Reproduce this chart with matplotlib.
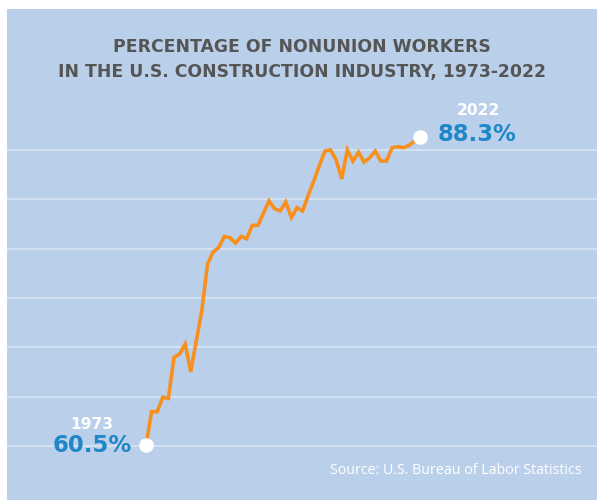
import matplotlib

matplotlib.use("Agg")
import matplotlib.pyplot as plt

# nonunion share of construction workers
years = list(range(1973, 2023))
nonunion_pct = [
    60.5, 63.5, 63.5, 64.8, 64.7, 68.4, 68.7, 69.6, 67.1, 69.9,
    72.7, 76.8, 77.9, 78.3, 79.3, 79.2, 78.7, 79.3, 79.1, 80.3,
    80.3, 81.4, 82.5, 81.8, 81.6, 82.4, 81.0, 81.9, 81.6, 83.0,
    84.3, 85.7, 87.0, 87.1, 86.2, 84.5, 87.1, 86.1, 86.9, 86.0,
    86.4, 87.0, 86.1, 86.1, 87.3, 87.4, 87.3, 87.5, 87.9, 88.3,
]
start_label = ("1973", "60.5%")
end_label = ("2022", "88.3%")
title_lines = [
    "PERCENTAGE OF NONUNION WORKERS",
    "IN THE U.S. CONSTRUCTION INDUSTRY, 1973-2022",
]
source_text = "Source: U.S. Bureau of Labor Statistics"

PANEL = "#bad0ea"
GRID = "#d5e2f2"
ORANGE = "#f7901e"
BLUE = "#1f86c8"
TITLE_GRAY = "#555555"
TEXT_FONT = "Open Sans"
NUM_FONT = "DejaVu Sans"


def main():
    fig = plt.figure(figsize=(5.97, 5.0), dpi=100)
    fig.patch.set_facecolor("white")
    ax = fig.add_axes([7 / 597, 0, 590 / 597, 491 / 500])
    ax.set_facecolor(PANEL)

    ax.set_xlim(1948.14, 2053.65)
    ax.set_ylim(55.54, 99.81)
    grid_vals = [60.41 + k * 4.448 for k in range(7)]
    ax.set_yticks(grid_vals)
    ax.set_xticks([])
    ax.grid(axis="y", color=GRID, linewidth=1.3)
    ax.set_axisbelow(True)
    ax.tick_params(left=False, labelleft=False)
    for s in ax.spines.values():
        s.set_visible(False)

    ax.plot(years, nonunion_pct, color=ORANGE, linewidth=2.6, solid_joinstyle="miter", zorder=3)
    ax.plot([years[0], years[-1]], [nonunion_pct[0], nonunion_pct[-1]], "o",
            color="white", markersize=10.5, markeredgewidth=0, zorder=4)

    # endpoint labels
    ax.annotate(start_label[1], (years[0], nonunion_pct[0]), xytext=(-10.5, -0.5),
                textcoords="offset points", ha="right", va="center",
                color=BLUE, fontsize=16.4, fontweight="bold", family=NUM_FONT)
    ax.annotate(start_label[0], (years[0], nonunion_pct[0]), xytext=(-39, 15),
                textcoords="offset points", ha="center", va="center",
                color="white", fontsize=11.2, fontweight="bold", family=NUM_FONT)
    ax.annotate(end_label[1], (years[-1], nonunion_pct[-1]), xytext=(13, 1.5),
                textcoords="offset points", ha="left", va="center",
                color=BLUE, fontsize=16.4, fontweight="bold", family=NUM_FONT)
    ax.annotate(end_label[0], (years[-1], nonunion_pct[-1]), xytext=(42, 18.5),
                textcoords="offset points", ha="center", va="center",
                color="white", fontsize=11.2, fontweight="bold", family=NUM_FONT)

    fig.text(302 / 597, 1 - 47 / 500, title_lines[0], ha="center", va="center",
             color=TITLE_GRAY, fontsize=12.4, fontweight="bold", family=NUM_FONT)
    fig.text(302 / 597, 1 - 72 / 500, title_lines[1], ha="center", va="center",
             color=TITLE_GRAY, fontsize=12.4, fontweight="bold", family=NUM_FONT)
    fig.text(581 / 597, 1 - 470.5 / 500, source_text, ha="right", va="center",
             color="white", fontsize=10.3, family=TEXT_FONT)

    fig.savefig("out.png", dpi=100, facecolor=fig.get_facecolor())
    plt.close(fig)


if __name__ == "__main__":
    main()
